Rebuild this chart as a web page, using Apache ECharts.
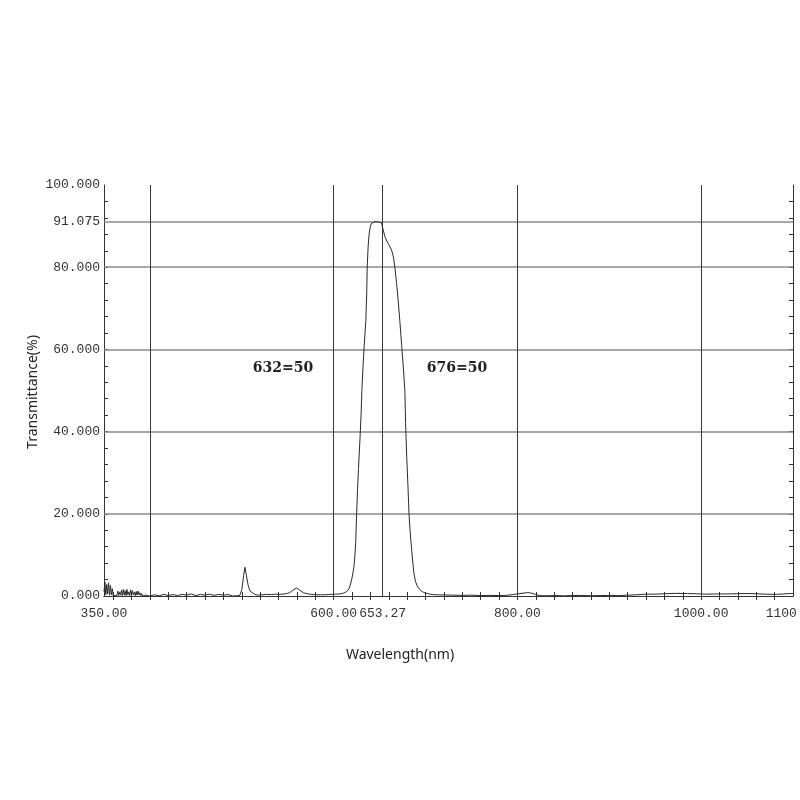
<!DOCTYPE html>
<html>
<head>
<meta charset="utf-8">
<script src="https://cdn.jsdelivr.net/npm/echarts@6/dist/echarts.min.js"></script>
<style>html,body{margin:0;padding:0;background:#fff;}#c{width:800px;height:800px;}</style>
</head>
<body>
<div id="c"></div>
<script>
// Wavelength (nm)
const wavelength = [350,351,352,353,354,355,356,357,358,359,360,362,364,365,366,367,368,369,370,371,372,373,374,375,376,377,378,379,380,381,382,383,384,385,386,387,388,389,390,391,392,395,400,405,410,415,420,425,430,435,440,445,450,455,460,465,470,475,480,485,490,495,498,500,502,503.4,505,507,509,511,514,518,522,527,532,537,542,546,549,552,555,557,559.7,562,564,567,570,574,578,582,586,590,594,598,602,606,610,613,616,618,619.5,621,622,623,624,625,626,627,628.6,630,630.7,632,633,634,635,636,636.5,637.5,638.7,640,641.3,643,645,647,649,651,652,654,655.8,658,660,663,665,666.6,668.5,670.2,672,674,676,677.5,678.3,679.5,681,682,683,684,685,686,687.3,689,691,694,697,700,704.7,708,712,720,730,740,750,760,770,780,788,795,800,805,810,813,817,820,824,830,840,850,860,870,880,890,900,910,920,930,940,950,960,973,985,995,1005,1015,1027,1038,1049,1060,1070,1082,1090,1096,1100];
// Transmittance (%)
const transmittance = [1.0,3.4,0.3,2.8,0.5,3.2,0.2,2.6,0.3,1.8,0.1,0.05,0.1,1.2,0.1,1.0,0.2,1.4,0.1,1.6,0.2,1.3,0.1,1.6,0.3,1.0,0.1,1.5,0.2,1.3,0.3,0.9,0.1,1.1,0.2,1.2,0.3,0.8,0.1,0.6,0.0,0.2,0.0,0.3,0.05,0.4,0.1,0.35,0.1,0.4,0.2,0.5,0.1,0.4,0.2,0.45,0.15,0.4,0.2,0.35,0.0,0.05,0.2,1.5,5.0,7.0,5.0,2.5,1.2,0.8,0.4,0.2,0.3,0.4,0.35,0.45,0.4,0.5,0.6,0.8,1.3,1.7,1.95,1.6,1.2,0.8,0.6,0.45,0.35,0.3,0.3,0.3,0.35,0.4,0.45,0.5,0.65,0.9,1.5,2.6,3.9,5.6,7.0,9.5,13,20,26,31,38,45,50,56,60,63.5,67,74,80,85,88.3,90,90.7,91.0,91.07,91.07,91.0,90.9,90.8,89,87.4,86.3,85.5,84.2,82.5,80,76,72,67,61,55,50,42,34,26,20,16.5,13.5,11,8.5,5.6,3.6,2.4,1.5,1.0,0.7,0.45,0.35,0.3,0.25,0.2,0.15,0.2,0.1,0.15,0.1,0.15,0.35,0.5,0.65,0.8,0.8,0.6,0.35,0.1,0.05,0.1,0.05,0.1,0.15,0.05,0.1,0.15,0.1,0.2,0.3,0.45,0.45,0.55,0.65,0.6,0.55,0.45,0.5,0.5,0.55,0.6,0.55,0.45,0.4,0.5,0.6,0.6];

const xLabelValues = [350, 600, 653.27, 800, 1000, 1100];
const yLabelValues = [0, 20, 40, 60, 80, 91.075, 100];
const xGridValues = [400, 600, 653.27, 800, 1000];
const yGridValues = [20, 40, 60, 80, 91.075];
const xMinorTicks = [360,380,400,420,440,460,480,500,520,540,560,580,600,620,640,660,680,700,720,740,760,780,800,820,840,860,880,900,920,940,960,980,1000,1020,1040,1060,1080];
const yMinorTicks = [4,8,12,16,20,24,28,32,36,40,44,48,52,56,60,64,68,72,76,80,84,88,92,96];
const annotations = ['632=50', '676=50'];

const monoFont = '"Liberation Mono", "DejaVu Sans Mono", monospace';
const seriesData = wavelength.map((w, i) => [w, transmittance[i]]);

const markData = [];
yGridValues.forEach(v => markData.push({ yAxis: v, lineStyle: { color: '#8a8a8a', width: 1.6, type: 'solid' } }));
xGridValues.forEach(v => markData.push({ xAxis: v, lineStyle: { color: '#3a3a3a', width: 1, type: 'solid' } }));

const chart = echarts.init(document.getElementById('c'), null, { renderer: 'canvas' });
const frameAxis = { lineStyle: { color: '#333', width: 1 } };
chart.setOption({
  backgroundColor: '#fff',
  animation: false,
  grid: { left: 104, right: 7, top: 185, bottom: 204, containLabel: false, outerBoundsMode: 'none' },
  xAxis: [
    {
      type: 'value', min: 350, max: 1100, position: 'bottom',
      axisLine: frameAxis,
      axisTick: { show: true, inside: true, length: 4, customValues: xMinorTicks, lineStyle: { color: '#333' } },
      axisLabel: { customValues: xLabelValues, formatter: v => v.toFixed(2), color: '#333', fontSize: 13, fontFamily: monoFont, margin: 11, hideOverlap: false },
      splitLine: { show: false }
    },
    {
      type: 'value', min: 350, max: 1100, position: 'top',
      axisLine: frameAxis,
      axisTick: { show: true, inside: true, length: 4, customValues: xMinorTicks, lineStyle: { color: '#333' } },
      axisLabel: { show: false },
      splitLine: { show: false }
    }
  ],
  yAxis: [
    {
      type: 'value', min: 0, max: 100, position: 'left',
      axisLine: { show: true, lineStyle: { color: '#333', width: 1 } },
      axisTick: { show: true, inside: true, length: 4, customValues: yMinorTicks, lineStyle: { color: '#333' } },
      axisLabel: { customValues: yLabelValues, formatter: v => v.toFixed(3), color: '#333', fontSize: 13, fontFamily: monoFont, margin: 4 },
      splitLine: { show: false }
    },
    {
      type: 'value', min: 0, max: 100, position: 'right',
      axisLine: { show: true, lineStyle: { color: '#333', width: 1 } },
      axisTick: { show: true, inside: true, length: 4, customValues: yMinorTicks, lineStyle: { color: '#333' } },
      axisLabel: { show: false },
      splitLine: { show: false }
    }
  ],
  graphic: [
    { type: 'text', x: 400, y: 655, style: { text: 'Wavelength(nm)', align: 'center', verticalAlign: 'middle', font: '14px "Noto Sans", sans-serif', fill: '#222' } },
    { type: 'text', x: 33, y: 392, rotation: Math.PI / 2, style: { text: 'Transmittance(%)', align: 'center', verticalAlign: 'middle', font: '14px "Noto Sans", sans-serif', fill: '#222' } },
    { type: 'text', x: 283, y: 368, style: { text: annotations[0], align: 'center', verticalAlign: 'middle', font: 'bold 14px "DejaVu Serif", serif', fill: '#222' } },
    { type: 'text', x: 457, y: 368, style: { text: annotations[1], align: 'center', verticalAlign: 'middle', font: 'bold 14px "DejaVu Serif", serif', fill: '#222' } }
  ],
  series: [
    {
      type: 'line', xAxisIndex: 0, yAxisIndex: 0,
      data: seriesData, showSymbol: false, smooth: false,
      lineStyle: { color: '#2a2a2a', width: 1 },
      z: 3,
      markLine: { silent: true, symbol: 'none', label: { show: false }, animation: false, data: markData, z: 2 }
    }
  ]
});
</script>
</body>
</html>
